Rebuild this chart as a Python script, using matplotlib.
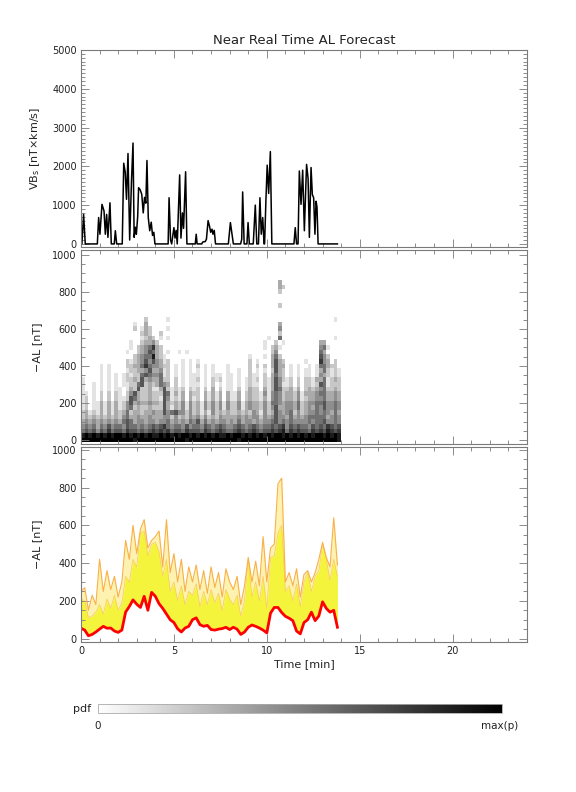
import numpy as np
import matplotlib
matplotlib.use("Agg")
import matplotlib.pyplot as plt
from matplotlib.ticker import MultipleLocator, NullFormatter

# --- solar wind driver VBs (vertices of the trace) ---
vbs_t = [0.0, 0.05, 0.14, 0.23, 0.88, 0.95, 1.02, 1.13, 1.24, 1.31, 1.38, 1.45, 1.56, 1.63,
         1.79, 1.85, 1.92, 2.22, 2.30, 2.38, 2.45, 2.53, 2.62, 2.72, 2.80, 2.86, 2.93, 2.98,
         3.05, 3.10, 3.18, 3.27, 3.35, 3.42, 3.49, 3.55, 3.62, 3.70, 3.78, 3.85, 3.92, 3.98,
         4.69, 4.74, 4.82, 4.88, 5.00, 5.06, 5.12, 5.18, 5.31, 5.38, 5.46, 5.52, 5.63, 5.70,
         6.15, 6.20, 6.25, 6.50, 6.55, 6.68, 6.75, 6.84, 6.92, 6.98, 7.05, 7.10, 7.17, 7.24,
         7.93, 8.04, 8.20, 8.59, 8.65, 8.70, 8.78, 8.93, 8.99, 9.06, 9.27, 9.38, 9.46, 9.55,
         9.63, 9.70, 9.78, 9.85, 9.88, 9.95, 10.02, 10.10, 10.19, 10.27,
         11.46, 11.53, 11.60, 11.68, 11.75, 11.84, 11.93, 12.02, 12.10, 12.14, 12.22, 12.29,
         12.38, 12.45, 12.52, 12.59, 12.65, 12.70, 12.76, 13.80]
vbs_v = [0, 0, 760, 0, 0, 680, 250, 1020, 850, 250, 760, 170, 1060, 0,
         0, 340, 0, 0, 2080, 1850, 1150, 2330, 100, 1650, 2600, 170, 430, 250,
         700, 1450, 1400, 1280, 800, 1200, 1050, 2150, 680, 340, 560, 220, 300, 0,
         0, 1190, 100, 0, 420, 150, 350, 0, 1780, 150, 800, 400, 1860, 0,
         0, 250, 0, 0, 50, 60, 120, 600, 450, 300, 380, 250, 350, 0,
         0, 550, 0, 0, 120, 1340, 0, 0, 550, 0, 0, 1000, 0, 0,
         1190, 250, 680, 0, 0, 1100, 2030, 1300, 2380, 0,
         0, 420, 0, 0, 1880, 1020, 1900, 340, 1500, 2050, 1690, 170,
         1970, 1270, 1190, 250, 1100, 950, 0, 0]

# --- forecast AL pdf: columns of 0.2 min from 0 to 14, rows of 25 nT (875 down to 0) ---
pdf_rows = [
    "0000000000 0000000000 0000000000 0000000000 0000000000 0000000000 0000000000",  # 875
    "0000000000 0000000000 0000000000 0000000000 0000000000 0003000000 0000000000",  # 850
    "0000000000 0000000000 0000000000 0000000000 0000000000 0003200000 0000000000",  # 825
    "0000000000 0000000000 0000000000 0000000000 0000000000 0002000000 0000000000",  # 800
    "0000000000 0000000000 0000000000 0000000000 0000000000 0000000000 0000000000",  # 775
    "0000000000 0000000000 0000000000 0000000000 0000000000 0000000000 0000000000",  # 750
    "0000000000 0000000000 0000000000 0000000000 0000000000 0002000000 0000000000",  # 725
    "0000000000 0000000000 0000000000 0000000000 0000000000 0000000000 0000000000",  # 700
    "0000000000 0000000000 0000000000 0000000000 0000000000 0000000000 0000000000",  # 675
    "0000000000 0000000200 0001000000 0000000000 0000000000 0000000000 0000000010",  # 650
    "0000000000 0000100300 0000000000 0000000000 0000000000 0003000000 0000000000",  # 625
    "0000000000 0000201320 0001000000 0000000000 0000000000 0004000000 0000000000",  # 600
    "0000000000 0000002320 0200000000 0000000000 0000000000 0002000000 0000000000",  # 575
    "0000000000 0000001232 0101000000 0000000000 0000000000 1005000000 0000000010",  # 550
    "0000000000 0001002334 2000000000 0000000000 0000000001 0020100000 0000330000",  # 525
    "0000000000 0001023457 3200000000 0000000000 0000000001 0231000000 0000451000",  # 500
    "0000000000 0010023465 3201001010 0000000000 0000000000 0240000000 0000530000",  # 475
    "0000000000 0000234558 3210000000 0000000000 0000010001 0352000000 0000642000",  # 450
    "0000000000 0021234646 4312000101 0100000000 0000020100 0363200000 1000743020",  # 425
    "0000010100 0022335754 4322010101 0201010001 0000020202 0363301010 0101553220",  # 400
    "0000010100 0012233463 3412010101 0101010001 0010020101 0263201010 1101352121",  # 375
    "0000010101 0121225654 4512010101 1101011101 1010021102 0353201010 1101432121",  # 350
    "1000010101 0122326343 3522020101 1201021201 1010121202 1364212020 2213351232",  # 325
    "1001010101 0112256232 3543020101 1101020101 1010121102 1364112020 2212651222",  # 300
    "1001010101 1013262231 1362121202 1202030201 1020132203 1365223130 2323452232",  # 275
    "1101020202 1024632232 2265131303 2203131303 1130232214 1454233241 3334553343",  # 250
    "1201020202 1126532232 2164121303 1203131303 1130232213 1454233241 2334453343",  # 225
    "1201131313 1246343343 3263232414 2314242414 2241343324 2554344352 3445564454",  # 200
    "1201131313 1245232232 2263132414 2314242414 2241343324 2463344352 3435464454",  # 175
    "2312131313 2352332334 3364564424 2313142323 2232324314 2364345242 3445454353",  # 150
    "2323232323 2453343343 3344242324 3424232433 3343434424 3464435343 4555553454",  # 125
    "3434343434 3565344344 3445343435 4635343443 4353443434 4564545444 4545564454",  # 100
    "4545354645 5465545456 5675455464 5546545654 4565456545 5656746565 5465657656",  # 75
    "5656465756 6576656567 6767566576 6657656765 5676567656 6767857676 6576768767",  # 50
    "8989898989 9898989898 8989898998 9898989889 8998989898 9899898989 8989989898",  # 25
    "9999999999 9999899999 9999999989 9999999999 9989999999 9999999999 9999999998",  # 0
]

# --- AL forecast summary on 0.2 min grid ---
al_t = [i * 0.2 for i in range(70)]
al_med = [55, 45, 15, 22, 35, 50, 65, 55, 56, 40, 33, 45, 140, 170, 205, 182, 165, 224, 150, 245,
          224, 185, 160, 130, 100, 85, 52, 35, 56, 65, 100, 110, 74, 65, 70, 48, 45, 50, 53, 60,
          48, 60, 50, 22, 35, 60, 72, 65, 56, 45, 30, 135, 165, 165, 138, 118, 108, 95, 40, 25,
          85, 100, 140, 95, 120, 195, 160, 140, 150, 60]
al_u1 = [210, 200, 110, 120, 140, 180, 130, 210, 160, 230, 150, 190, 330, 300, 420, 380, 560, 570, 440, 500,
         510, 460, 330, 420, 250, 300, 200, 280, 180, 250, 230, 290, 170, 250, 180, 260, 190, 240, 150, 260,
         210, 180, 230, 120, 200, 420, 220, 300, 200, 330, 160, 430, 440, 560, 600, 250, 280, 200, 290, 170,
         300, 350, 250, 330, 360, 500, 420, 310, 420, 330]
al_u2 = [250, 270, 150, 230, 180, 420, 250, 360, 260, 330, 220, 300, 520, 420, 600, 450, 580, 630, 480, 520,
         540, 570, 380, 630, 350, 450, 300, 420, 250, 380, 300, 390, 260, 360, 240, 380, 270, 350, 220, 370,
         300, 260, 330, 180, 280, 430, 300, 410, 280, 540, 300, 480, 500, 820, 850, 300, 350, 280, 370, 220,
         340, 360, 300, 350, 420, 510, 430, 380, 640, 390]

axcol = "#7a7a7a"
txtcol = "#222222"

pdf = np.array([[int(ch) for ch in r.replace(" ", "")] for r in pdf_rows][::-1], dtype=float)
assert pdf.shape == (36, 70), pdf.shape
t_edges = np.arange(71) * 0.2
al_edges = np.arange(37) * 25 - 12.5

fig = plt.figure(figsize=(5.76, 7.92), dpi=100)
L, W = 0.1406, 0.7743
ax1 = fig.add_axes([L, 0.6881, W, 0.2488])
ax2 = fig.add_axes([L, 0.4394, W, 0.2450])
ax3 = fig.add_axes([L, 0.1894, W, 0.2462])


def style(ax, ymaj, ymin):
    ax.set_xlim(0, 24)
    ax.xaxis.set_major_locator(MultipleLocator(5))
    ax.xaxis.set_minor_locator(MultipleLocator(1))
    ax.yaxis.set_major_locator(MultipleLocator(ymaj))
    ax.yaxis.set_minor_locator(MultipleLocator(ymin))
    ax.tick_params(which="both", direction="in", top=True, right=True,
                   color=axcol, labelcolor=txtcol, labelsize=7, pad=3)
    ax.tick_params(which="major", length=6, width=0.6)
    ax.tick_params(which="minor", length=3, width=0.6)
    for s in ax.spines.values():
        s.set_color(axcol)
        s.set_linewidth(0.8)


# top panel: VBs
ax1.plot(vbs_t, vbs_v, color="black", lw=1.1)
ax1.set_ylim(-80, 5000)
style(ax1, 1000, 100)
ax1.xaxis.set_major_formatter(NullFormatter())
ax1.set_title("Near Real Time AL Forecast", fontsize=9.5, color=txtcol, pad=4)
ax1.set_ylabel("VB$_\\mathrm{s}$ [nT×km/s]", fontsize=8, color=txtcol)
ax1.yaxis.set_label_coords(-0.088, 0.5)

# middle panel: pdf
mesh = ax2.pcolormesh(t_edges, al_edges, pdf, cmap="gray_r", vmin=0, vmax=9, shading="flat")
ax2.set_ylim(-21, 1025)
style(ax2, 200, 50)
ax2.xaxis.set_major_formatter(NullFormatter())
ax2.set_ylabel("−AL [nT]", fontsize=8, color=txtcol)
ax2.yaxis.set_label_coords(-0.088, 0.5)

# bottom panel: forecast band
ax3.fill_between(al_t, al_u1, al_u2, color="#fdf2b0", lw=0)
ax3.fill_between(al_t, al_med, al_u1, color="#f4f43c", lw=0)
ax3.plot(al_t, al_u1, color="#fbc860", lw=0.5)
ax3.plot(al_t, al_u2, color="#f9b048", lw=0.8)
ax3.plot(al_t, al_med, color="#ff0000", lw=2.0)
ax3.set_ylim(-18, 1015)
style(ax3, 200, 50)
ax3.set_ylabel("−AL [nT]", fontsize=8, color=txtcol)
ax3.yaxis.set_label_coords(-0.088, 0.5)
ax3.set_xlabel("Time [min]", fontsize=8, color=txtcol, labelpad=2)

# colour bar
cax = fig.add_axes([0.1696, 0.0997, 0.7014, 0.0114])
cb = fig.colorbar(mesh, cax=cax, orientation="horizontal")
cb.set_ticks([])
cb.outline.set_edgecolor("#aaaaaa")
cb.outline.set_linewidth(0.6)
fig.text(0.158, 0.1050, "pdf", ha="right", va="center", fontsize=8, color=txtcol)
fig.text(0.1696, 0.0830, "0", ha="center", va="center", fontsize=7.5, color=txtcol)
fig.text(0.868, 0.0830, "max(p)", ha="center", va="center", fontsize=7.5, color=txtcol)

fig.savefig("out.png", dpi=100)
